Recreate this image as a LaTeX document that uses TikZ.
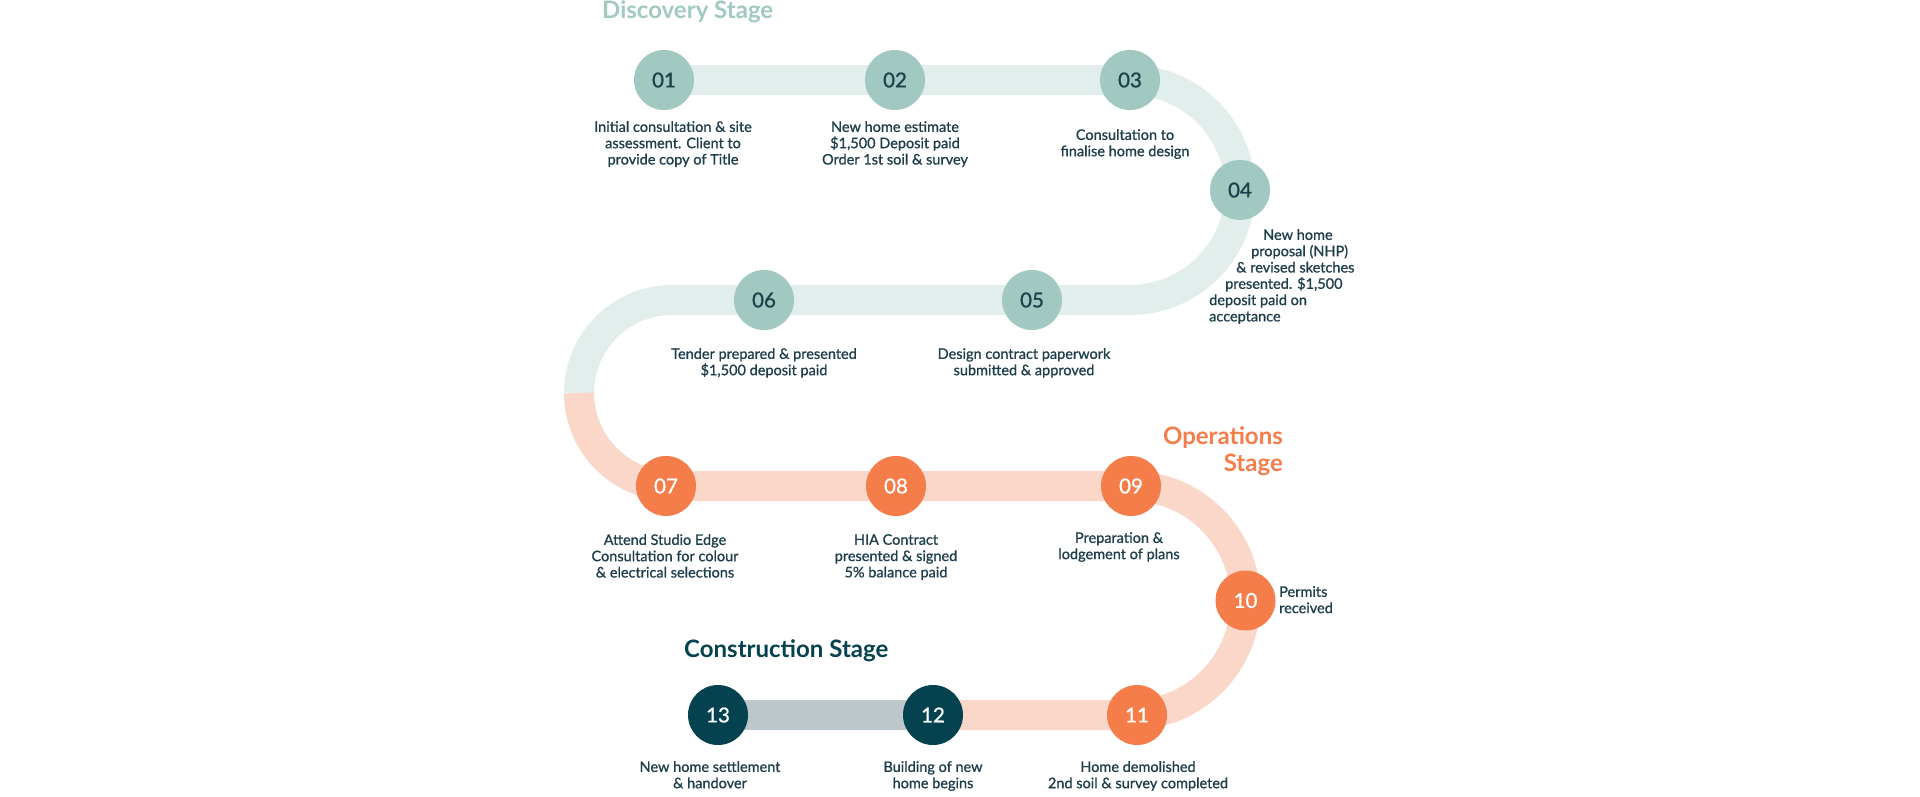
\documentclass[tikz,border=0pt]{standalone}
\usepackage{fontspec}
\setmainfont{Lato}
\newfontfamily\notefont{Lato}[FakeBold=0.9]
\usetikzlibrary{backgrounds}
\definecolor{tealdot}{HTML}{A1C9C2}
\definecolor{tealtrack}{HTML}{E1EEEB}
\definecolor{orangedot}{HTML}{F47D4A}
\definecolor{orangetrack}{HTML}{FAD7C8}
\definecolor{darkdot}{HTML}{04424F}
\definecolor{greytrack}{HTML}{BBC7CB}
\definecolor{ink}{HTML}{1D3E4A}
\tikzset{
	stage/.style={circle,minimum size=60pt,inner sep=0pt,font=\notefont\fontsize{20.5}{20.5}\selectfont},
	discovery/.style={stage,fill=tealdot,text=ink},
	operations/.style={stage,fill=orangedot,text=white},
	construction/.style={stage,fill=darkdot,text=white},
	note/.style={align=center,text=ink,inner sep=0pt,anchor=north,font=\notefont\fontsize{14.5}{16.3}\selectfont},
	heading/.style={inner sep=0pt,font=\bfseries\fontsize{24}{27}\selectfont},
	track/.style={line width=30pt}
}

\begin{document}
\begin{tikzpicture}[x=1pt,y=1pt]
			\useasboundingbox (0,0) rectangle (1920,-796);
			\node[heading,anchor=west,text=tealdot] (discoveryhead) at (602,-12) {Discovery Stage};
			\node[heading,anchor=north east,align=right,text=orangedot] (operationshead) at (1283,-426) {Operations\\Stage};
			\node[heading,anchor=west,text=darkdot] (constructionhead) at (684,-651) {Construction Stage};
			\node[discovery] (s01) at (664,-80) {01};
			\node[discovery] (s02) at (895,-80) {02};
			\node[discovery] (s03) at (1130,-80) {03};
			\node[discovery] (s04) at (1240,-190) {04};
			\node[discovery] (s05) at (1032,-300) {05};
			\node[discovery] (s06) at (764,-300) {06};
			\node[operations] (s07) at (666,-486) {07};
			\node[operations] (s08) at (896,-486) {08};
			\node[operations] (s09) at (1131,-486) {09};
			\node[operations] (s10) at (1245.5,-600.5) {10};
			\node[operations] (s11) at (1137,-715) {11};
			\node[construction] (s12) at (933,-715) {12};
			\node[construction] (s13) at (718,-715) {13};
			\coordinate (bendin) at (672,-300);
			\coordinate (bendmid) at (579,-393);
			\begin{scope}[on background layer]
				\fill[white] (0,0) rectangle (1920,-796);
				\draw[track,tealtrack] (s01.center) -- (s03.center) arc[start angle=90,end angle=-90,radius=110] -- (s06.center) -- (bendin) arc[start angle=90,end angle=180,radius=93];
				\draw[track,orangetrack] (bendmid) arc[start angle=180,end angle=270,radius=93] -- (s09.center) arc[start angle=90,end angle=-90,radius=114.5] -- (s12.center);
				\draw[track,greytrack] (s12.center) -- (s13.center);
			\end{scope}
			\node[note] (d01) at (673,-121) {Initial consultation \& site\\assessment. Client to\\provide copy of Title};
			\node[note] (d02) at (895,-121) {New home estimate\\\$1,500 Deposit paid\\Order 1st soil \& survey};
			\node[note] (d03) at (1125,-129) {Consultation to\\finalise home design};
			\node[note,anchor=north west,align=left] (d04) at (1209,-229) {\hspace*{54pt}New home\\\hspace*{42pt}proposal (NHP)\\\hspace*{27pt}\& revised sketches\\\hspace*{16pt}presented. \$1,500\\deposit paid on\\acceptance};
			\node[note] (d05) at (1024,-348) {Design contract paperwork\\submitted \& approved};
			\node[note] (d06) at (764,-348) {Tender prepared \& presented\\\$1,500 deposit paid};
			\node[note] (d07) at (665,-534) {Attend Studio Edge\\Consultation for colour\\\& electrical selections};
			\node[note] (d08) at (896,-534) {HIA Contract\\presented \& signed\\5\% balance paid};
			\node[note] (d09) at (1119,-532) {Preparation \&\\lodgement of plans};
			\node[note,anchor=north west,align=left] (d10) at (1279,-586) {Permits\\received};
			\node[note] (d11) at (1138,-761) {Home demolished\\2nd soil \& survey completed};
			\node[note] (d12) at (933,-761) {Building of new\\home begins};
			\node[note] (d13) at (710,-761) {New home settlement\\\& handover};
		\end{tikzpicture}
\end{document}
